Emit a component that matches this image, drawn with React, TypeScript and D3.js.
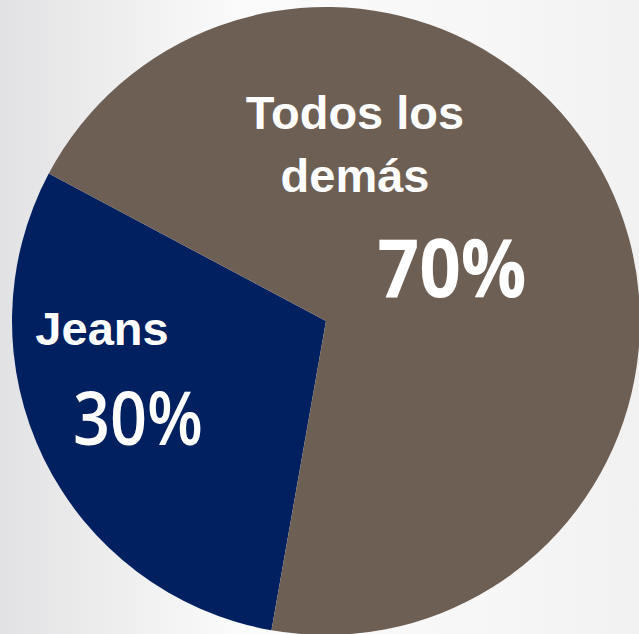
import React from "react";
import * as d3 from "d3";

const categories = ["Jeans", "Todos los demás"];
const values = [30, 70];
const nameLines = [["Jeans"], ["Todos los", "demás"]];
const percentLabels = ["30%", "70%"];

const W = 639;
const H = 634;
const CX = 326;
const CY = 321;
const R = 314;
const colors = ["#002060", "#6E5F55"];

// label layout (positions relative to pie center)
const nameLayout = [
  { x: 102 - CX, y: 345 - CY, lh: 0 },
  { x: 355 - CX, y: 129 - CY, lh: 63 },
];
const pctLayout = [
  { x: 138 - CX, y: 445 - CY, w: 130, size: 74, weight: 600 },
  { x: 452 - CX, y: 297 - CY, w: 149, size: 80, weight: 700 },
];

export default function App() {
  const pie = d3
    .pie<number>()
    .sort(null)
    .value((d) => d)
    .startAngle((190 * Math.PI) / 180)
    .endAngle((550 * Math.PI) / 180);
  const arcs = pie(values);
  const arcGen = d3.arc<d3.PieArcDatum<number>>().innerRadius(0).outerRadius(R);

  return (
    <svg
      width={W}
      height={H}
      style={{ position: "fixed", left: 0, top: 0, display: "block" }}
    >
      <defs>
        <linearGradient id="bg" x1="0" y1="0" x2="1" y2="0">
          <stop offset="0" stopColor="#e2e2e4" />
          <stop offset="0.38" stopColor="#fbfbfb" />
          <stop offset="0.75" stopColor="#f7f7f7" />
          <stop offset="1" stopColor="#f1f1f1" />
        </linearGradient>
      </defs>
      <rect x={0} y={0} width={W} height={H} fill="url(#bg)" />
      <g transform={`translate(${CX},${CY})`}>
        {arcs.map((a, i) => (
          <path key={categories[i]} d={arcGen(a) || ""} fill={colors[i]} />
        ))}
        {arcs.map((a, i) => (
          <g key={"lbl" + i}>
            <text
              x={nameLayout[i].x}
              y={nameLayout[i].y}
              textAnchor="middle"
              fill="#ffffff"
              fontFamily="'Liberation Sans', Arial, sans-serif"
              fontWeight={700}
              fontSize={47}
            >
              {nameLines[i].map((ln, j) => (
                <tspan key={j} x={nameLayout[i].x} dy={j === 0 ? 0 : nameLayout[i].lh}>
                  {ln}
                </tspan>
              ))}
            </text>
            <text
              x={pctLayout[i].x}
              y={pctLayout[i].y}
              textAnchor="middle"
              fill="#ffffff"
              fontFamily="'Open Sans', sans-serif"
              fontWeight={pctLayout[i].weight}
              fontSize={pctLayout[i].size}
              textLength={pctLayout[i].w}
              lengthAdjust="spacingAndGlyphs"
            >
              {percentLabels[i]}
            </text>
          </g>
        ))}
      </g>
    </svg>
  );
}
